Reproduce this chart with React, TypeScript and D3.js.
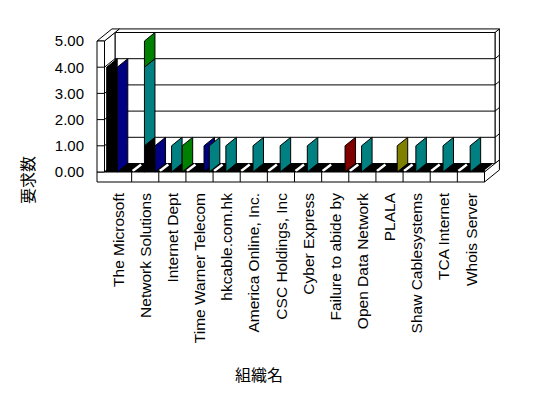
import React, { useRef, useEffect } from 'react';
import * as d3 from 'd3';

const categories = [
  'The Microsoft', 'Network Solutions', 'Internet Dept', 'Time Warner Telecom',
  'hkcable.com.hk', 'America Online, Inc.', 'CSC Holdings, Inc', 'Cyber Express',
  'Failure to abide by', 'Open Data Network', 'PLALA', 'Shaw Cablesystems',
  'TCA Internet', 'Whois Server',
];
const yTicks = [0, 1, 2, 3, 4, 5];

// values per category for each series
const blackVals = [4, 1, 0, 0, 0, 0, 0, 0, 0, 0, 0, 0, 0, 0];
const blueVals = [4, 1, 0, 1, 0, 0, 0, 0, 0, 0, 0, 0, 0, 0];
const tealVals = [0, 3, 1, 1, 1, 1, 1, 1, 0, 1, 0, 1, 1, 1];
const greenVals = [0, 1, 1, 0, 0, 0, 0, 0, 0, 0, 0, 0, 0, 0];
const redVals = [0, 0, 0, 0, 0, 0, 0, 0, 1, 0, 0, 0, 0, 0];
const oliveVals = [0, 0, 0, 0, 0, 0, 0, 0, 0, 0, 1, 0, 0, 0];

// column within the category cluster where each series stands
const blackCol = [0, 1, 1, 1, 1, 1, 1, 1, 1, 1, 1, 1, 1, 1];
const blueCol = [1, 2, 2, 1.5, 2, 2, 2, 2, 2, 2, 2, 2, 2, 2];
const tealCol = [1, 1, 1, 2, 1, 1, 1, 1, 1, 1, 1, 1, 1, 1];
const greenCol = [1, 1, 2, 2, 2, 2, 2, 2, 2, 2, 2, 2, 2, 2];
const redCol = [2, 2, 2, 2, 2, 2, 2, 2, 2, 2, 2, 2, 2, 2];
const oliveCol = [2, 2, 2, 2, 2, 2, 2, 2, 2, 2, 1.8, 2, 2, 2];

const series = [
  { vals: blackVals, col: blackCol, color: '#000000' },
  { vals: blueVals, col: blueCol, color: '#000080' },
  { vals: tealVals, col: tealCol, color: '#008080' },
  { vals: greenVals, col: greenCol, color: '#008000' },
  { vals: redVals, col: redCol, color: '#800000' },
  { vals: oliveVals, col: oliveCol, color: '#808000' },
];

const poly = (pts) => 'M' + pts.map((p) => p.join(',')).join('L') + 'Z';

const App = () => {
  const svgRef = useRef(null);

  useEffect(() => {
    const w = 548;
    const h = 398;
    const svg = d3.select(svgRef.current).attr('width', w).attr('height', h);
    svg.selectAll('*').remove();

    const x = d3.scaleLinear().domain([0, categories.length]).range([104.5, 484.5]);
    const y = d3.scaleLinear().domain([0, 5]).range([172, 41]);
    const colX = d3.scaleLinear().domain([0, 2]).range([2.2, 23.4]);
    const dx = 10.5;
    const dy = -8.5;
    const t = 1.42; // back of the wall slabs
    const slabT = 7.5;
    const floorT = 10;
    const x0 = x(0);
    const x1 = x(categories.length);
    const yTop = y(5);
    const yBase = y(0);

    const g = svg.append('g');
    const face = (pts, fill) =>
      g.append('path').attr('d', poly(pts)).attr('fill', fill).attr('stroke', '#000').attr('stroke-width', 1);
    const line = (a, b, color = '#000', sw = 1) =>
      g.append('line').attr('x1', a[0]).attr('y1', a[1]).attr('x2', b[0]).attr('y2', b[1])
        .attr('stroke', color).attr('stroke-width', sw);

    // back wall right side
    face([[x1 + dx, yTop + dy], [x1 + dx * t, yTop + dy * t], [x1 + dx * t, yBase + dy * t], [x1 + dx, yBase + dy]], '#fff');
    yTicks.slice(1, 5).forEach((v) => line([x1 + dx, y(v) + dy], [x1 + dx * t, y(v) + dy * t]));
    // back wall top
    face([[x0 + dx, yTop + dy], [x1 + dx, yTop + dy], [x1 + dx * t, yTop + dy * t], [x0 + dx * t, yTop + dy * t]], '#fff');
    // back wall
    face([[x0 + dx, yTop + dy], [x1 + dx, yTop + dy], [x1 + dx, yBase + dy], [x0 + dx, yBase + dy]], '#fff');
    yTicks.slice(1, 5).forEach((v) => line([x0 + dx, y(v) + dy], [x1 + dx, y(v) + dy]));
    // left wall inner face
    face([[x0, yTop], [x0 + dx, yTop + dy], [x0 + dx, yBase + dy], [x0, yBase]], '#fff');
    yTicks.slice(1, 5).forEach((v) => line([x0, y(v)], [x0 + dx, y(v) + dy]));
    // left wall top
    face([[x0 - slabT, yTop], [x0, yTop], [x0 + dx * t, yTop + dy * t], [x0 - slabT + dx * t, yTop + dy * t]], '#fff');

    // floor
    face([[x0, yBase], [x1, yBase], [x1 + dx, yBase + dy], [x0 + dx, yBase + dy]], '#000');
    d3.range(1, categories.length + 1).forEach((i) =>
      line([x(i) + 1, yBase - 1], [x(i) + dx - 1, yBase + dy + 1], '#fff', 2.5));
    face([[x1, yBase], [x1 + dx * t, yBase + dy * t], [x1 + dx * t, yBase + floorT + dy * t], [x1, yBase + floorT]], '#fff');
    face([[x0 - slabT, yBase], [x1, yBase], [x1, yBase + floorT], [x0 - slabT, yBase + floorT]], '#fff');
    d3.range(1, categories.length).forEach((i) => line([x(i), yBase], [x(i), yBase + floorT]));
    // left wall front
    face([[x0 - slabT, yTop], [x0, yTop], [x0, yBase], [x0 - slabT, yBase]], '#fff');
    yTicks.slice(1, 5).forEach((v) => line([x0 - slabT, y(v)], [x0, y(v)]));

    // slabs: stack within each column of each category
    const slabs = [];
    categories.forEach((c, i) => {
      const tops = {};
      series.forEach((s) => {
        const v = s.vals[i];
        if (!v) return;
        const col = s.col[i];
        const base = tops[col] || 0;
        tops[col] = base + v;
        slabs.push({ i, col, base, top: base + v, color: s.color });
      });
    });
    slabs.sort((a, b) => (x(a.i) + colX(a.col)) - (x(b.i) + colX(b.col)));
    slabs.forEach((d) => {
      const sx = x(d.i) + colX(d.col);
      face([[sx, y(d.base)], [sx, y(d.top)], [sx + dx, y(d.top) + dy], [sx + dx, y(d.base) + dy]], d.color);
    });

    // y tick labels
    svg.append('g').selectAll('text').data(yTicks).join('text')
      .attr('x', 84).attr('y', (d) => y(d)).attr('dy', '0.36em')
      .attr('text-anchor', 'end')
      .style('font', '15px "Liberation Sans", Arial, sans-serif')
      .text((d) => d.toFixed(2));

    // category labels
    svg.append('g').selectAll('text').data(categories).join('text')
      .attr('transform', (d, i) => `translate(${x(i) + 13.6},193) rotate(-90)`)
      .attr('dy', '0.36em')
      .attr('text-anchor', 'end')
      .style('font', '15.5px "Liberation Sans", Arial, sans-serif')
      .text((d) => d);

    svg.append('text')
      .attr('transform', 'translate(28,180) rotate(-90)')
      .attr('text-anchor', 'middle').attr('dy', '0.36em')
      .style('font', '16px "Noto Sans CJK JP", sans-serif')
      .text('要求数');

    svg.append('text')
      .attr('x', 259).attr('y', 375).attr('dy', '0.36em')
      .attr('text-anchor', 'middle')
      .style('font', '16px "Noto Sans CJK JP", sans-serif')
      .text('組織名');
  }, []);

  return (
    <div>
      <svg ref={svgRef} style={{ position: 'absolute', left: 0, top: 0, background: '#fff' }}></svg>
    </div>
  );
};

export default App;
